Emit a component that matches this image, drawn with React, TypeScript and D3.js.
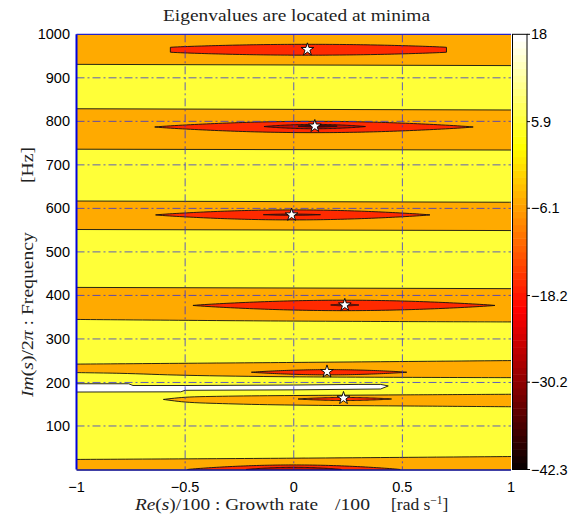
import React from 'react';
import * as d3 from 'd3';

const W = 577;
const H = 522;

const X_DOMAIN: [number, number] = [-1, 1];
const Y_DOMAIN: [number, number] = [0, 1000];
const C_DOMAIN: [number, number] = [-42.3, 18];

const xTicks = [-1, -0.5, 0, 0.5, 1];
const xTickLabels = ['−1', '−0.5', '0', '0.5', '1'];
const yTicks = [100, 200, 300, 400, 500, 600, 700, 800, 900, 1000];
const xGrid = [-0.5, 0, 0.5];
const yGrid = [100, 200, 300, 400, 500, 600, 700, 800, 900, 1000];
const colorTicks = [18, 5.9, -6.1, -18.2, -30.2, -42.3];
const colorTickLabels = ['18', '5.9', '−6.1', '−18.2', '−30.2', '−42.3'];

// eigenvalue locations (minima)
const eigRe = [0.063, 0.097, -0.01, 0.235, 0.153, 0.229];
const eigFreq = [965, 789, 585, 378, 225, 164];

// orange bands: upper and lower boundary lines [Re, Hz]
const bandUpper: [number, number][][] = [
  [[-1.05, 23], [0, 26], [1.05, 30]],
  [[-0.6, 161], [-0.5, 166], [-0.3, 168.5], [0, 170], [0.5, 171.5], [1.05, 173]],
  [[-1.05, 242], [0, 246], [1.05, 250.5]],
  [[-1.05, 418.5], [1.05, 415.5]],
  [[-1.05, 617], [1.05, 614]],
  [[-1.05, 829], [1.05, 826]],
  [[-1.05, 1010], [1.05, 1010]],
];
const bandLower: [number, number][][] = [
  [[-1.05, -10], [1.05, -10]],
  [[-0.6, 161], [-0.5, 155], [-0.3, 151], [0, 148], [0.5, 146], [1.05, 144]],
  [[-1.05, 223], [-0.8, 221], [-0.5, 216.5], [0, 213], [1.05, 211]],
  [[-1.05, 345], [0, 341], [1.05, 339]],
  [[-1.05, 551.5], [1.05, 549]],
  [[-1.05, 736], [1.05, 734]],
  [[-1.05, 931], [1.05, 928]],
];

// white (high value) region outline [Re, Hz]
const whiteRe = [-1.05, -0.76, -0.74, -0.5, 0, 0.3, 0.4, 0.435, 0.4, 0, -0.5, -0.52, -1.05];
const whiteFreq = [197, 197, 193, 193, 194, 195.5, 195.5, 192, 185, 183, 182, 178.5, 178];

// closed minima lenses
const lensRe0 = [-0.49, 0.02, -0.195, -0.464, -0.636, -0.64, -0.568, -0.22, 0.17, -0.14, -0.137, 0.02];
const lensRe1 = [0.49, 0.45, 0.52, 0.926, 0.627, 0.826, 0.703, 0.22, 0.3, 0.123, 0.33, 0.2];
const lensFreq = [0, 162, 223.5, 377, 585, 787, 964.5, 0, 378, 585.5, 788, 789];
const lensHalf = [10.5, 3.5, 6, 12, 11.5, 13, 12.5, 5, 2, 1.5, 5, 2];
const lensLevel = [1, 1, 1, 1, 1, 1, 1, 2, 2, 2, 2, 3];
const lensBlunt = [false, false, false, false, false, false, true, false, false, false, false, false];

const levelColors = ['#FFAA00', '#FF2A00', '#C41000', '#6A0000'];
const YELLOW = '#FFFF38';
const WHITE = '#FFFFFF';

const M = { left: 76.5, right: 511, top: 34.3, bottom: 469.5 };
const CB = { left: 512.5, right: 527 };

function hot(k: number, m = 64) {
  const n = Math.floor((3 / 8) * m);
  const r = Math.min(1, (k + 1) / n);
  const g = Math.max(0, Math.min(1, (k + 1 - n) / n));
  const b = Math.max(0, Math.min(1, (k + 1 - 2 * n) / (m - 2 * n)));
  return d3.rgb(r * 255, g * 255, b * 255).toString();
}

export default function App() {
  const x = d3.scaleLinear().domain(X_DOMAIN).range([M.left, M.right]);
  const y = d3.scaleLinear().domain(Y_DOMAIN).range([M.bottom, M.top]);
  const c = d3.scaleLinear().domain(C_DOMAIN).range([M.bottom, M.top]);

  const curveLine = d3
    .line<[number, number]>()
    .x((d) => x(d[0]))
    .y((d) => y(d[1]))
    .curve(d3.curveCatmullRom.alpha(0.5));
  const linLine = d3
    .line<[number, number]>()
    .x((d) => x(d[0]))
    .y((d) => y(d[1]));

  const bandPaths = bandUpper.map((up, i) => {
    const lo = bandLower[i].slice().reverse();
    const a = curveLine(up) as string;
    const b = (curveLine(lo) as string).replace(/^M/, 'L');
    return a + b + 'Z';
  });

  const whitePath = linLine(whiteRe.map((r, i) => [r, whiteFreq[i]] as [number, number])) + 'Z';

  const lensPaths = lensRe0.map((r0, i) => {
    const r1 = lensRe1[i];
    const N = 80;
    const upper: [number, number][] = [];
    const lower: [number, number][] = [];
    for (let j = 0; j <= N; j++) {
      const t = j / N;
      const s = Math.sin(Math.PI * t);
      const h = lensBlunt[i] ? lensHalf[i] * (0.45 + 0.55 * Math.pow(s, 0.8)) : lensHalf[i] * Math.pow(s, 0.85);
      const re = r0 + t * (r1 - r0);
      upper.push([re, lensFreq[i] + h]);
      lower.push([re, lensFreq[i] - h]);
    }
    return linLine(upper.concat(lower.reverse())) + 'Z';
  });

  const star = d3.symbol(d3.symbolStar, 50)() as string;

  const cbSteps = d3.range(64);
  const cbStep = (C_DOMAIN[1] - C_DOMAIN[0]) / 64;

  const sans = '"Liberation Sans", Arial, Helvetica, sans-serif';
  const serif = '"Liberation Serif", "Times New Roman", serif';

  return (
    <svg width={W} height={H} style={{ position: 'absolute', left: 0, top: 0, background: '#fff' }}>
      <defs>
        <clipPath id="plotClip">
          <rect x={M.left} y={M.top} width={M.right - M.left} height={M.bottom - M.top} />
        </clipPath>
      </defs>

      <text x={163} y={21} textLength={267} lengthAdjust="spacingAndGlyphs" fontFamily={serif} fontSize={16.5} fill="#222">
        Eigenvalues are located at minima
      </text>

      <g clipPath="url(#plotClip)">
        <rect x={M.left} y={M.top} width={M.right - M.left} height={M.bottom - M.top} fill={YELLOW} />
        {bandPaths.map((p, i) => (
          <path key={'b' + i} d={p} fill={levelColors[0]} stroke="#111" strokeWidth={0.9} />
        ))}
        <path d={whitePath} fill={WHITE} stroke="#111" strokeWidth={0.9} />
        {lensPaths.map((p, i) => (
          <path key={'l' + i} d={p} fill={levelColors[lensLevel[i]]} stroke="#111" strokeWidth={0.9} />
        ))}
        {xGrid.map((v) => (
          <line key={'gx' + v} x1={x(v)} x2={x(v)} y1={M.top} y2={M.bottom} stroke="#2a2ae0" strokeOpacity={0.75} strokeWidth={1} strokeDasharray="8,3,2,3" />
        ))}
        {yGrid.map((v) => (
          <line key={'gy' + v} x1={M.left} x2={M.right} y1={y(v)} y2={y(v)} stroke="#2a2ae0" strokeOpacity={0.75} strokeWidth={1} strokeDasharray="8,3,2,3" />
        ))}
        {eigRe.map((r, i) => (
          <path key={'s' + i} d={star} transform={`translate(${x(r)},${y(eigFreq[i])})`} fill="#fff" stroke="#000" strokeWidth={0.9} />
        ))}
      </g>

      {/* axes frame */}
      <line x1={M.left} x2={M.left} y1={M.top} y2={M.bottom} stroke="#0000dd" strokeWidth={2} />
      <line x1={M.left} x2={M.right} y1={M.bottom + 0.5} y2={M.bottom + 0.5} stroke="#000088" strokeWidth={1.6} />
      <line x1={M.left} x2={M.right} y1={M.top} y2={M.top} stroke="#2222cc" strokeWidth={1.2} />

      {/* colorbar */}
      {cbSteps.map((k) => {
        const v0 = C_DOMAIN[0] + k * cbStep;
        const v1 = v0 + cbStep;
        return <rect key={'cb' + k} x={CB.left} width={CB.right - CB.left} y={c(v1)} height={c(v0) - c(v1) + 0.5} fill={hot(k)} />;
      })}
      <rect x={CB.left} y={M.top} width={CB.right - CB.left} height={M.bottom - M.top} fill="none" stroke="#000" strokeWidth={1} />
      {colorTicks.map((v, i) => (
        <g key={'ct' + i}>
          <line x1={CB.right} x2={CB.right + 3} y1={c(v)} y2={c(v)} stroke="#000" strokeWidth={1} />
          <text x={CB.right + 4} y={c(v)} dy="0.35em" fontFamily={sans} fontSize={14.5} fill="#000">
            {colorTickLabels[i]}
          </text>
        </g>
      ))}

      {/* y tick labels */}
      {yTicks.map((v) => (
        <text key={'yt' + v} x={70} y={y(v)} dy="0.35em" textAnchor="end" fontFamily={sans} fontSize={14.5} fill="#000">
          {v}
        </text>
      ))}
      {/* x tick labels */}
      {xTicks.map((v, i) => (
        <text key={'xt' + v} x={x(v)} y={492} textAnchor="middle" fontFamily={sans} fontSize={14.5} fill="#000">
          {xTickLabels[i]}
        </text>
      ))}

      {/* x axis label */}
      <text x={135} y={510} textLength={183} lengthAdjust="spacingAndGlyphs" fontFamily={serif} fontSize={16.5} fill="#222">
        <tspan fontStyle="italic">Re</tspan>(<tspan fontStyle="italic">s</tspan>)/100 : Growth rate
      </text>
      <text x={335} y={510} textLength={35} lengthAdjust="spacingAndGlyphs" fontFamily={serif} fontSize={16.5} fill="#222">
        /100
      </text>
      <text x={391} y={510} fontFamily={serif} fontSize={17.5} fill="#222">
        [rad s<tspan dy={-6.5} fontSize={11.5}>−1</tspan>
        <tspan dy={6.5}>]</tspan>
      </text>

      {/* y axis label */}
      <text transform={`translate(33,397) rotate(-90)`} textLength={250} lengthAdjust="spacingAndGlyphs" fontFamily={serif} fontSize={16.5} fill="#222">
        <tspan fontStyle="italic">Im</tspan>(<tspan fontStyle="italic">s</tspan>)/2<tspan fontStyle="italic">π</tspan> : Frequency{'\u2003\u2003\u2002'}[Hz]
      </text>
    </svg>
  );
}
